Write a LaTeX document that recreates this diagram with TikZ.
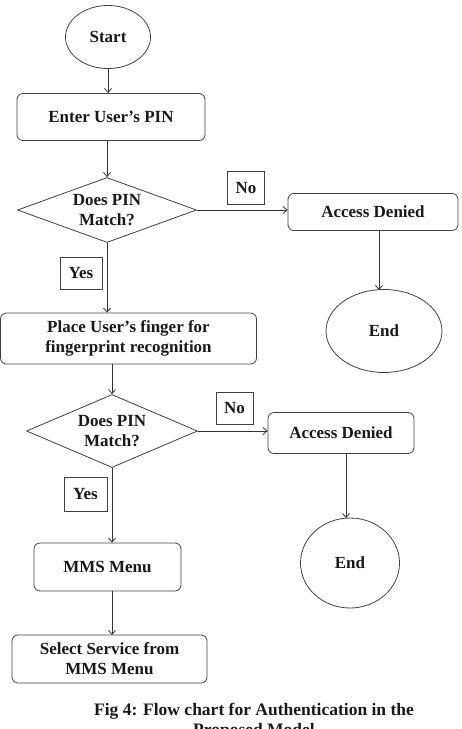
\documentclass[tikz,border=0pt]{standalone}
\usepackage{fontspec}
\setmainfont{Liberation Serif}
\usetikzlibrary{shapes.geometric,arrows.meta}
\begin{document}
\begin{tikzpicture}[x=1pt,y=-1pt,
  every node/.style={font=\bfseries\fontsize{17}{20}\selectfont, text=black!90},
  proc/.style={draw=black!75, line width=0.8pt, rectangle, rounded corners=6pt, inner sep=0pt, align=center},
  term/.style={draw=black!75, line width=0.8pt, ellipse, inner sep=0pt},
  dec/.style={draw=black!75, line width=0.8pt, diamond, inner sep=0pt},
  lab/.style={draw=black!75, line width=0.8pt, rectangle, inner sep=0pt},
  arr/.style={draw=black!80, line width=0.8pt, -{Straight Barb[length=4pt,width=7pt]}}]
\clip (0,0) rectangle (461,729);
\useasboundingbox (0,0) rectangle (461,729);
\node[term, minimum width=85, minimum height=63] (start) at (108,37) {Start};
\node[proc, minimum width=188, minimum height=47] (pin) at (111,117) {Enter User’s PIN};
\node[dec, minimum width=179, minimum height=65,
      label={[align=center, inner sep=0pt]center:Does PIN\\Match?}] (d1) at (107,210) {};
\node[proc, minimum width=170, minimum height=37] (ad1) at (373,212) {Access Denied};
\node[term, minimum width=116, minimum height=83] (end1) at (384,331) {End};
\node[lab, minimum width=37, minimum height=33] (no1) at (246,188) {No};
\node[lab, minimum width=42, minimum height=32] (yes1) at (81,273) {Yes};
\node[proc, minimum width=256, minimum height=51] (place) at (128.5,338.5) {Place User’s finger for\\fingerprint recognition};
\node[dec, minimum width=171, minimum height=73,
      label={[align=center, inner sep=0pt]center:Does PIN\\Match?}] (d2) at (112,431) {};
\node[proc, minimum width=146, minimum height=41] (ad2) at (341,433) {Access Denied};
\node[term, minimum width=99, minimum height=90] (end2) at (350,563) {End};
\node[lab, minimum width=37, minimum height=32] (no2) at (234.5,408) {No};
\node[lab, minimum width=43, minimum height=34] (yes2) at (85.5,494) {Yes};
\node[proc, minimum width=147, minimum height=48] (mms) at (107.5,567) {MMS Menu};
\node[proc, minimum width=195, minimum height=48] (sel) at (109.5,659) {Select Service from\\MMS Menu};
\node[font=\bfseries\fontsize{17.5}{20}\selectfont, align=center, anchor=north] (cap) at (254,700) {Fig 4: Flow chart for Authentication in the\\Proposed Model};
\draw[arr] (start.south) -- (start.south |- pin.north);
\draw[arr] (d1.north |- pin.south) -- (d1.north);
\draw[arr] (d1.east) -- (d1.east -| ad1.west);
\draw[arr] (379,231) -- (379,290);
\draw[arr] (d1.south) -- (d1.south |- place.north);
\draw[arr] (d2.north |- place.south) -- (d2.north);
\draw[arr] (d2.east) -- (d2.east -| ad2.west);
\draw[arr] (346,454) -- (346,518);
\draw[arr] (d2.south) -- (d2.south |- mms.north);
\draw[arr] (112,591) -- (112,635);
\end{tikzpicture}
\end{document}
